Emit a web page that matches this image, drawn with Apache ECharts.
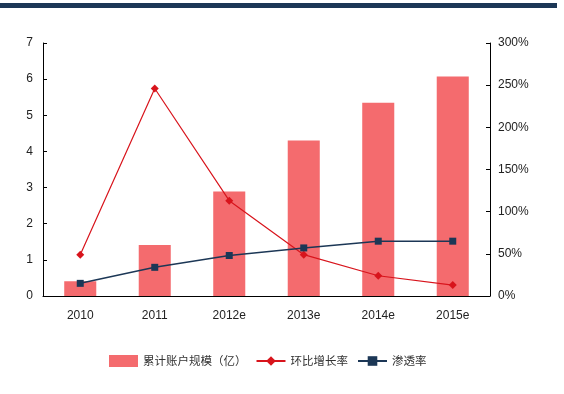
<!DOCTYPE html>
<html><head><meta charset="utf-8">
<script src="https://cdn.jsdelivr.net/npm/echarts@6/dist/echarts.min.js"></script>
<style>html,body{margin:0;padding:0;background:#fff;}#c{width:564px;height:394px;}</style>
</head><body><div id="c"></div>
<script>
var categories = ['2010','2011','2012e','2013e','2014e','2015e'];
var accountScale = [0.41, 1.41, 2.89, 4.30, 5.35, 6.07];
var growthRate = [49, 246, 113, 49, 24, 13];
var penetration = [15, 34, 48, 57, 65, 65];
var leftTicks = {min:0, max:7, interval:1};
var rightTicks = {min:0, max:300, interval:50};
var names = ['累计账户规模（亿）','环比增长率','渗透率'];

var font = "'Liberation Sans Narrow','Liberation Sans',Arial,sans-serif";
var chart = echarts.init(document.getElementById('c'));
chart.setOption({
  animation:false,
  graphic:[{type:'rect',shape:{x:0,y:3,width:557,height:5},style:{fill:'#1c3756'}}],
  grid:{left:43,right:74,top:43,bottom:98},
  legend:{
    left:104, top:350, itemGap:9, itemWidth:29, itemHeight:12,
    textStyle:{fontSize:11.5,color:'#333',fontFamily:"'Noto Sans CJK SC',sans-serif"},
    data:[{name:names[0],icon:'rect'},{name:names[1]},{name:names[2]}]
  },
  xAxis:{type:'category',data:categories,
    axisLine:{lineStyle:{color:'#000',width:1}},
    axisTick:{inside:true,length:4,lineStyle:{color:'#000'}},
    axisLabel:{margin:14,fontSize:12,color:'#222',fontFamily:font}},
  yAxis:[
    {type:'value',min:leftTicks.min,max:leftTicks.max,interval:leftTicks.interval,
     splitLine:{show:false},
     axisLine:{show:true,lineStyle:{color:'#000'}},
     axisTick:{show:true,inside:true,length:4,lineStyle:{color:'#000'}},
     axisLabel:{margin:10,fontSize:12,color:'#222',fontFamily:font}},
    {type:'value',min:rightTicks.min,max:rightTicks.max,interval:rightTicks.interval,
     splitLine:{show:false},
     axisLine:{show:true,lineStyle:{color:'#000'}},
     axisTick:{show:true,inside:true,length:4,lineStyle:{color:'#000'}},
     axisLabel:{margin:8,fontSize:12,color:'#222',fontFamily:font,formatter:'{value}%'}}
  ],
  series:[
    {name:names[0],type:'bar',yAxisIndex:0,data:accountScale,barWidth:'43%',
     itemStyle:{color:'#f46b6e'}},
    {name:names[1],type:'line',yAxisIndex:1,data:growthRate,
     symbol:'diamond',symbolSize:8,
     lineStyle:{color:'#d8141c',width:1.2},itemStyle:{color:'#d8141c'}},
    {name:names[2],type:'line',yAxisIndex:1,data:penetration,
     symbol:'rect',symbolSize:7,
     lineStyle:{color:'#1c3756',width:1.5},itemStyle:{color:'#1c3756'}}
  ]
});
</script></body></html>
